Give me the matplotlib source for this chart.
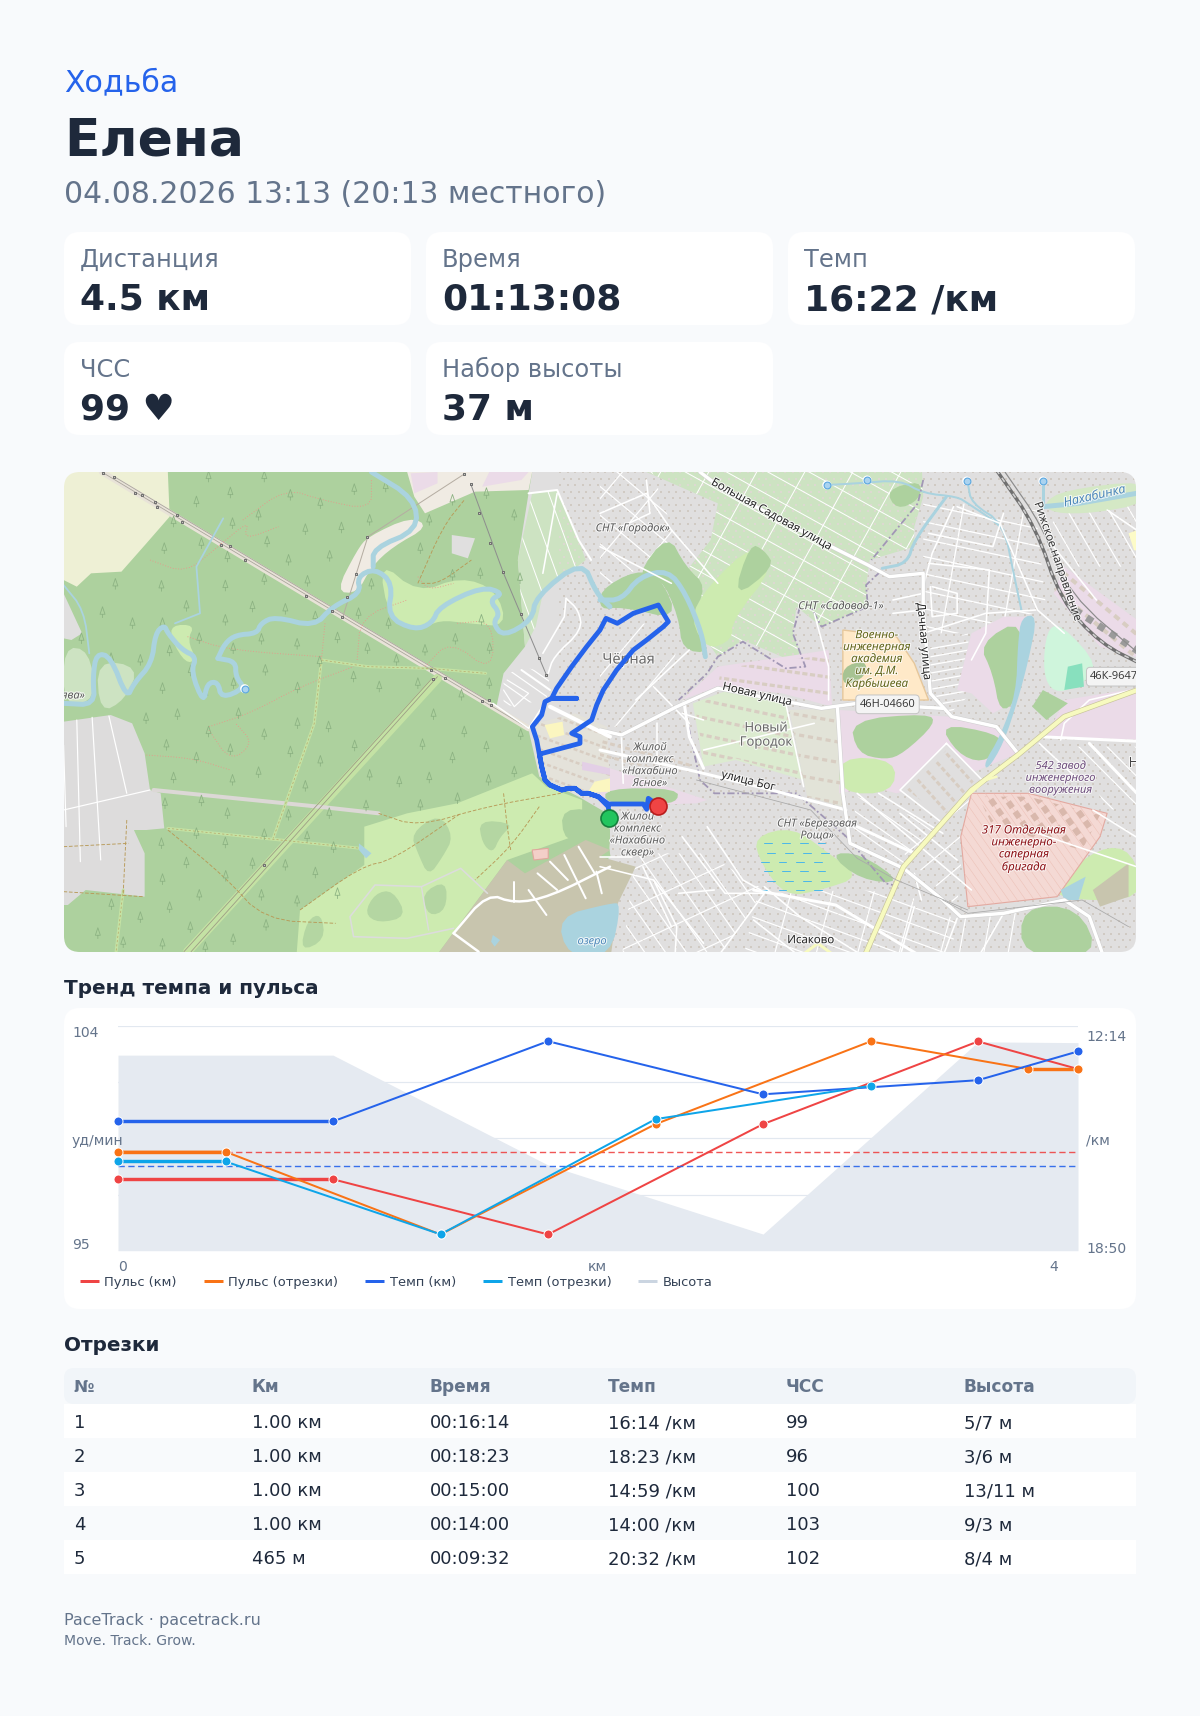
#!/usr/bin/env python3
# -*- coding: utf-8 -*-
import numpy as np
import matplotlib
matplotlib.use('Agg')
import matplotlib.pyplot as plt
from matplotlib.patches import FancyBboxPatch, Polygon, PathPatch, BoxStyle
from matplotlib.path import Path
from matplotlib.collections import LineCollection
import matplotlib.patheffects as pe

# ---- chart data ----
km_x = [0, 1, 2, 3, 4, 4.465]
seg_x = [0, 0.5, 1.5, 2.5, 3.5, 4.2325, 4.465]
pulse_km = [98, 98, 96, 100, 103, 102]
pulse_seg = [99, 99, 96, 100, 103, 102, 102]
pace_km = [903, 903, 761, 855, 830, 779]
pace_seg_x = [0, 0.5, 1.5, 2.5, 3.5]
pace_seg = [974, 974, 1103, 899, 840]
elev_km = [0, 1, 2, 3, 4, 4.465]
elev = [23.5, 23.5, 10.3, 2.0, 25.1, 25.0]
pulse_avg = 99
pace_avg = 982

cards = [('Дистанция', '4.5 км'), ('Время', '01:13:08'), ('Темп', '16:22 /км'),
         ('ЧСС', '99 ♥'), ('Набор высоты', '37 м')]
table_head = ['№', 'Км', 'Время', 'Темп', 'ЧСС', 'Высота']
table_rows = [['1', '1.00 км', '00:16:14', '16:14 /км', '99', '5/7 м'],
              ['2', '1.00 км', '00:18:23', '18:23 /км', '96', '3/6 м'],
              ['3', '1.00 км', '00:15:00', '14:59 /км', '100', '13/11 м'],
              ['4', '1.00 км', '00:14:00', '14:00 /км', '103', '9/3 м'],
              ['5', '465 м', '00:09:32', '20:32 /км', '102', '8/4 м']]

# route, in pixels of the page
route_x = [500 + v / 3 for v in [328, 325, 295, 265, 245, 225, 205, 185, 150, 135, 125, 118, 120, 240, 240, 215, 245, 275, 290, 310,
                                 350, 400, 440, 490, 505, 490, 475, 400, 352, 318, 300, 260, 215, 170, 155, 230, 155, 135, 125, 97,
                                 110, 125, 135, 150, 185, 205, 225, 245, 265, 295, 325, 430, 440, 445, 475]]
route_y = [580 + v / 3 for v in [715, 680, 650, 640, 640, 625, 625, 630, 615, 600, 560, 520, 522, 490, 470, 460, 440, 420, 375, 330,
                                 270, 210, 180, 140, 125, 100, 75, 100, 130, 115, 150, 200, 260, 325, 355, 355, 355, 365, 405, 440,
                                 480, 560, 600, 615, 630, 625, 625, 640, 640, 650, 672, 672, 688, 655, 677]]

BG = '#f8fafc'
DARK = '#1e293b'
MUTED = '#64748b'
PX = 0.72

fig = plt.figure(figsize=(12, 17.16), dpi=100, facecolor=BG)
page = fig.add_axes([0, 0, 1, 1])
over = fig.add_axes([0, 0, 1, 1], zorder=20)
for a in (page, over):
    a.set_xlim(0, 1200)
    a.set_ylim(1716, 0)
    a.axis('off')
    a.patch.set_visible(False)


def txt(x, y, s, size, color=DARK, weight='normal', ax=page, **kw):
    ax.text(x, y, s, fontsize=size * PX, color=color, fontweight=weight, va='baseline', **kw)


def card(x, y, w, h, color='white', r=16):
    page.add_patch(FancyBboxPatch((x, y), w, h, boxstyle='round,pad=0,rounding_size=%g' % r,
                                  fc=color, ec='none', zorder=1))


txt(64, 91, 'Ходьба', 30, '#2563eb')
txt(64, 156, 'Елена', 52, DARK, 'bold')
txt(64, 203, '04.08.2026 13:13 (20:13 местного)', 29.9, MUTED)

for i, (lab, val) in enumerate(cards):
    x = 64 + (i % 3) * 362
    y = 232 if i < 3 else 342
    card(x, y, 347, 93)
    txt(x + 16, y + 35, lab, 24.1, MUTED)
    txt(x + 16, y + 78, val, 36, DARK, 'bold')

txt(64, 994, 'Тренд темпа и пульса', 20, DARK, 'bold')
card(64, 1008, 1072, 301)

# ---- map ----
map_ax = fig.add_axes([64 / 1200, 1 - 952 / 1716, 1072 / 1200, 480 / 1716])
map_ax.set_xlim(64, 1136)
map_ax.set_ylim(952, 472)
map_ax.axis('off')


def L(pts):
    return [(50 + x / 2.8, 460 + y / 3) for x, y in pts]


def R(pts):
    return [(600 + x / 2.8, 460 + y / 3) for x, y in pts]


def chaikin(pts, closed, n=2):
    a = np.array(pts, dtype=float)
    for _ in range(n):
        if closed:
            b = np.roll(a, -1, axis=0)
            a = np.column_stack([0.75 * a + 0.25 * b, 0.25 * a + 0.75 * b]).reshape(-1, 2)
        else:
            q = 0.75 * a[:-1] + 0.25 * a[1:]
            r = 0.25 * a[:-1] + 0.75 * a[1:]
            a = np.vstack([a[0], np.column_stack([q, r]).reshape(-1, 2), a[-1]])
    return a


def poly(pts, color, z=2, ec='none', lw=0, smooth=False, **kw):
    if smooth:
        pts = chaikin(pts, True)
    p = Polygon(pts, closed=True, fc=color, ec=ec, lw=lw, zorder=z, **kw)
    map_ax.add_patch(p)
    return p


def line(pts, color='white', width=2, z=4, smooth=False, **kw):
    a = chaikin(pts, False) if smooth else np.array(pts)
    kw.setdefault('solid_capstyle', 'round')
    kw.setdefault('solid_joinstyle', 'round')
    map_ax.plot(a[:, 0], a[:, 1], color=color, lw=width * PX, zorder=z, **kw)


def streets(pts, angle, step, width=1.2, color='white', z=3.8, dashes=None):
    # parallel streets cut to a zone of the base map
    zone = Polygon(pts, closed=True, fc='none', ec='none', zorder=1)
    map_ax.add_patch(zone)
    a = np.array(pts)
    c = a.mean(axis=0)
    r = np.hypot(*(a - c).T).max() + step
    d = np.array([np.cos(np.radians(angle)), np.sin(np.radians(angle))])
    n = np.array([-d[1], d[0]])
    segs = [[c + n * o - d * r, c + n * o + d * r] for o in np.arange(-r, r, step)]
    ls = 'solid' if dashes is None else (0, dashes)
    lc = LineCollection(segs, colors=color, linewidths=width * PX, zorder=z, linestyles=ls)
    map_ax.add_collection(lc)
    lc.set_clip_path(zone)


FOREST = '#add19e'
GREY = '#e0dfdf'
GARDEN = '#cde3c2'
PARK = '#cdebb0'
WATER = '#aad3df'
MAUVE = '#ebdbe8'
BLOCK = '#d8cdc2'

poly([(64, 472), (1136, 472), (1136, 952), (64, 952)], FOREST, 1)
poly(L([(38, 36), (330, 36), (335, 170), (270, 250), (200, 335), (115, 340), (75, 380), (38, 360)]), '#eef0d5', 2)
grey_lot = L([(38, 785), (170, 765), (230, 790), (265, 880), (280, 990), (310, 1000), (320, 1105), (270, 1110), (235, 1110),
              (265, 1180), (265, 1310), (100, 1290), (50, 1335), (38, 1335)])
poly(grey_lot, '#dddcdc', 2)
for a, b in [((75, 780), (85, 1205)), ((118, 772), (142, 1200)), ((165, 768), (215, 1000)), ((38, 1050), (280, 990)), ((38, 855), (45, 1100))]:
    line(L([a, b]), 'white', 1.2, 3)
poly(L([(38, 560), (110, 570), (130, 720), (38, 740)]), GARDEN, 2, smooth=True)
poly(L([(130, 600), (250, 620), (210, 720), (140, 760)]), GARDEN, 2, smooth=True)
poly(L([(38, 400), (90, 520), (60, 540), (38, 535)]), GREY, 2)

town_pts = L([(1350, 36), (1340, 100), (1310, 300), (1330, 560), (1270, 640), (1250, 740), (1340, 810), (1370, 950), (1480, 1010),
              (1560, 1060), (1568, 1190)]) + R([(20, 1200), (0, 1500), (1530, 1500), (1530, 0), (0, 0)])
town = poly(town_pts, GREY, 2)
gx, gy = np.meshgrid(np.arange(560, 1140, 7.5), np.arange(472, 955, 6.5))
gx = gx + (np.arange(gy.shape[0]) % 2)[:, None] * 3.7
dots = map_ax.scatter(gx.ravel(), gy.ravel(), s=3.6, marker='s', c='#d0cac3', linewidths=0, zorder=2.1)
dots.set_clip_path(town)

# top of the left half
poly(L([(1000, 36), (1350, 36), (1340, 90), (1190, 95), (1050, 160), (1020, 110)]), '#f0ebe3', 2.2)
poly(L([(1010, 40), (1085, 36), (1085, 70), (1020, 100)]), MAUVE, 2.25)
poly(L([(1230, 36), (1340, 36), (1320, 60), (1210, 80)]), MAUVE, 2.25)
poly(L([(1125, 225), (1190, 235), (1170, 295), (1125, 280)]), GREY, 2)
poly(L([(800, 395), (860, 270), (890, 230), (1010, 170), (1060, 200), (960, 260), (900, 320), (860, 400)]), '#f0ebe3', 2, smooth=True)
poly(L([(920, 300), (1030, 400), (1150, 350), (1250, 390), (1280, 500), (1170, 490), (1090, 480), (1040, 510), (950, 480)]), PARK, 2.2, smooth=True)
poly(L([(340, 495), (405, 495), (385, 540), (410, 600), (380, 610), (340, 540)]), PARK, 2.2, smooth=True)

# gardens
gard1_pts = L([(1350, 100), (1420, 90), (1480, 240), (1500, 300), (1380, 400), (1360, 500), (1330, 560), (1310, 300)])
gard2_pts = R([(130, 36), (140, 0), (900, 0), (905, 110), (880, 200), (880, 260), (755, 300), (745, 380), (750, 440), (620, 500), (550, 440), (540, 520),
               (575, 620), (400, 540), (330, 590), (290, 530), (270, 450), (215, 370), (310, 240), (330, 130)])
for pts in (gard1_pts, gard2_pts):
    g = poly(pts, GARDEN, 2.3)
    d = map_ax.scatter(gx.ravel(), gy.ravel(), s=2.8, marker='s', c='#dcd9d0', linewidths=0, zorder=2.4)
    d.set_clip_path(g)
streets(gard2_pts, 29, 20, 1.0, z=2.45)
streets(gard2_pts, 119, 42, 1.0, z=2.45)
streets(gard1_pts, 70, 20, 1.0, z=2.45)
poly(R([(300, 380), (430, 250), (490, 320), (370, 480), (370, 540), (300, 570), (250, 480)]), PARK, 2.5, smooth=True)
poly(R([(420, 250), (460, 270), (490, 320), (370, 420)]), FOREST, 2.6, smooth=True)
poly(R([(100, 350), (190, 220), (240, 320), (300, 380), (250, 480), (310, 580), (230, 570), (220, 470), (170, 350)]), FOREST, 2.6, smooth=True)
poly(R([(800, 90), (900, 60), (895, 120), (830, 150)]), FOREST, 2.6, smooth=True)
poly(R([(0, 390), (100, 330), (170, 350), (220, 480), (60, 440), (0, 450)]), FOREST, 2.55, smooth=True)

# residential street pattern
streets(R([(905, 120), (1220, 150), (1250, 450), (1000, 520), (905, 520)]), 12, 17, 1.3, z=2.5)
streets(R([(905, 120), (1220, 150), (1250, 450), (1000, 520), (905, 520)]), 100, 60, 1.3, z=2.5)
streets(R([(925, 560), (1030, 520), (1040, 700), (980, 760), (925, 690)]), -10, 8, 1.3, z=2.5)
streets(R([(100, 1180), (300, 1180), (460, 1290), (330, 1500), (60, 1500)]), 55, 17, 1.2, z=2.5)
streets(R([(100, 1180), (300, 1180), (460, 1290), (330, 1500), (60, 1500)]), -25, 34, 1.2, z=2.5)
streets(R([(440, 1300), (720, 1290), (850, 1300), (1000, 1380), (980, 1500), (400, 1500)]), 20, 16, 1.2, z=2.5)
streets(R([(440, 1300), (720, 1290), (850, 1300), (1000, 1380), (980, 1500), (400, 1500)]), 105, 40, 1.2, z=2.5)
streets(R([(720, 1010), (960, 1100), (850, 1220), (700, 1150)]), 35, 14, 1.2, z=2.5)
streets(R([(1000, 1375), (1180, 1340), (1180, 1500), (960, 1500)]), 100, 24, 1.2, z=2.5)
streets(R([(1300, 160), (1530, 130), (1530, 320), (1300, 320), (1250, 200)]), 60, 18, 1.2, z=2.5)
streets(R([(0, 480), (230, 500), (180, 720), (60, 800), (0, 800)]), -50, 44, 1.2, z=2.5)
streets(R([(0, 0), (135, 0), (210, 230), (100, 330), (0, 390)]), 40, 22, 1.2, z=2.5)
streets(R([(0, 0), (135, 0), (210, 230), (100, 330), (0, 390)]), 130, 38, 1.2, z=2.5)
streets(L([(1320, 620), (1400, 640), (1390, 720), (1270, 740), (1270, 650)]), 35, 14, 1.2, z=2.5)
streets(R([(1330, 860), (1530, 860), (1530, 1040), (1420, 1050)]), 45, 20, 1.2, z=2.5)
streets(R([(1040, 980), (850, 1180), (1000, 1340), (1020, 1100)]), -40, 22, 1.2, z=2.5)

# buildings, zones
poly(R([(330, 620), (640, 570), (650, 740), (510, 700), (330, 680), (230, 720)]), MAUVE, 2.5)
poly(R([(260, 730), (360, 690), (520, 730), (570, 960), (380, 900), (290, 920)]), '#dcebd0', 2.5)
poly(R([(530, 750), (660, 745), (680, 1040), (580, 1010)]), '#e2e3d8', 2.5)
streets(R([(340, 625), (640, 585), (645, 730), (510, 695), (330, 675)]), 8, 16, 3.2, BLOCK, 2.55, (1.6, 0.8))
streets(R([(265, 735), (360, 695), (520, 735), (570, 955), (380, 895), (295, 915)]), 12, 17, 3.2, BLOCK, 2.55, (1.6, 1.0))
streets(R([(530, 750), (660, 745), (680, 1040), (580, 1010)]), 10, 20, 3.2, BLOCK, 2.55, (1.6, 1.2))
poly(R([(680, 510), (830, 530), (880, 610), (920, 720), (680, 720)]), '#ffe9c8', 2.6, ec='#e6c79b', lw=1)
poly(R([(680, 620), (745, 600), (745, 650), (680, 680)]), '#a7c392', 2.7, smooth=True)
poly(R([(670, 750), (980, 770), (1100, 800), (1170, 880), (1060, 930), (830, 1000), (760, 980), (670, 1000)]), MAUVE, 2.5)
poly(R([(700, 780), (920, 760), (940, 790), (850, 880), (800, 900), (720, 880)]), FOREST, 2.7, smooth=True)
poly(R([(950, 790), (1110, 820), (1130, 860), (1070, 910), (1000, 880)]), FOREST, 2.7, smooth=True)
poly(R([(670, 890), (830, 900), (820, 1000), (670, 1000)]), PARK, 2.7, smooth=True)
poly(R([(840, 990), (970, 850), (1070, 960), (960, 1090)]), GREY, 2.6)
streets(R([(860, 990), (970, 870), (1050, 960), (960, 1070)]), 48, 13, 3, BLOCK, 2.65, (1.6, 0.8))
poly(R([(1040, 520), (1130, 470), (1200, 470), (1170, 720), (1100, 760), (1040, 700), (1000, 690)]), MAUVE, 2.5)
poly(R([(1060, 550), (1190, 470), (1170, 720), (1120, 760), (1100, 640)]), FOREST, 2.7, smooth=True)
poly(R([(1180, 470), (1225, 465), (1200, 600), (1170, 720), (1130, 850), (1085, 930), (1075, 910), (1120, 830), (1165, 700), (1170, 550)]), WATER, 3, smooth=True)
poly(R([(1300, 320), (1530, 500), (1530, 600), (1400, 560), (1270, 400)]), MAUVE, 2.5)
poly(R([(1250, 510), (1290, 490), (1400, 620), (1340, 680), (1270, 700), (1240, 640)]), '#cff5dc', 2.6, smooth=True)
poly(R([(1310, 620), (1350, 610), (1355, 680), (1300, 690)]), '#88e0be', 2.7)
poly(R([(1240, 130), (1300, 90), (1530, 60), (1530, 130), (1380, 160), (1270, 160)]), '#d4e8c5', 2.6, smooth=True)
poly(R([(1300, 720), (1530, 680), (1530, 840), (1250, 830)]), MAUVE, 2.5)
poly(R([(1240, 690), (1310, 730), (1250, 780), (1210, 740)]), FOREST, 2.7)
poly(R([(1480, 220), (1530, 200), (1530, 280), (1495, 270)]), '#fdfbc8', 2.7)
streets(R([(1300, 320), (1530, 500), (1530, 600), (1400, 560), (1270, 400)]), 40, 18, 4, BLOCK, 2.6, (1.6, 1.2))

# Yasnoe block, parks and the lake
poly(R([(0, 915), (130, 960), (300, 1020), (270, 1030), (0, 1040)]), MAUVE, 2.5)
poly(R([(15, 985), (220, 985), (215, 1030), (130, 1030), (15, 1030)]), FOREST, 2.7, smooth=True)
poly(L([(1360, 790), (1470, 760), (1560, 800), (1568, 980), (1500, 1000), (1390, 960)]), '#e4e2da', 2.5)
streets(L([(1360, 790), (1470, 760), (1568, 800), (1568, 980), (1500, 1000), (1390, 960)]), 20, 12, 2.5, BLOCK, 2.55, (1.6, 1))
streets(R([(0, 830), (230, 880), (270, 940), (0, 900)]), 15, 13, 3, BLOCK, 2.55, (1.6, 1))
poly(L([(1385, 795), (1435, 785), (1440, 825), (1400, 835)]), '#fbf6c0', 2.7)
poly(L([(1525, 965), (1568, 955), (1568, 995), (1505, 998)]), '#fbf6c0', 2.7)
poly(L([(1490, 905), (1568, 925), (1568, 945), (1490, 930)]), '#e3cfe6', 2.7)

park = L([(1350, 940), (1140, 1030), (1000, 1060), (880, 1100), (880, 1215), (700, 1350), (690, 1490), (1080, 1490),
          (1280, 1200), (1490, 1120), (1490, 1020), (1440, 1000), (1390, 980)])
poly(park, PARK, 2.9)
for blob in [[(1010, 1120), (1090, 1060), (1130, 1130), (1100, 1190), (1060, 1250), (1030, 1180)],
             [(1040, 1300), (1110, 1260), (1110, 1350), (1060, 1370)],
             [(910, 1300), (960, 1290), (1000, 1370), (920, 1390), (880, 1360)],
             [(1200, 1080), (1300, 1090), (1260, 1130), (1240, 1180), (1210, 1150)],
             [(720, 1380), (760, 1360), (770, 1440), (700, 1475)]]:
    poly(L(blob), '#b4d6a2', 3, smooth=True)
poly(L([(1430, 1040), (1568, 1060), (1568, 1190), (1530, 1130), (1440, 1150)]), FOREST, 3, smooth=True)
poly(R([(0, 1060), (30, 1190), (0, 1190)]), FOREST, 3)
poly(L([(1350, 1170), (1395, 1165), (1395, 1195), (1355, 1200)]), '#f3cfc8', 3, ec='#e0a79c', lw=0.8)

khaki = L([(1280, 1200), (1330, 1240), (1500, 1140), (1568, 1170)]) + R([(0, 1190), (100, 1220), (50, 1330), (30, 1490)]) + L([(1080, 1490)])
poly(khaki, '#c8c5ae', 3.1)
poly(L([(1420, 1370), (1568, 1330)]) + R([(60, 1330), (30, 1490)]) + L([(1450, 1490)]), WATER, 3.2, smooth=True)
poly(L([(1240, 1425), (1260, 1440), (1245, 1460), (1235, 1445)]), WATER, 3.2)
poly(L([(865, 1150), (900, 1180), (885, 1195), (865, 1170)]), WATER, 3.2)
for a, b in [((1300, 1265), (1300, 1325)), ((1340, 1290), (1390, 1365)), ((1365, 1240), (1420, 1290)),
             ((1400, 1205), (1450, 1260)), ((1440, 1185), (1500, 1315)), ((1480, 1160), (1525, 1240)), ((1530, 1235), (1545, 1300))]:
    line(L([a, b]), 'white', 2, 3.5)
line(L([(1130, 1420), (1225, 1300), (1300, 1330), (1400, 1310), (1568, 1220)]), 'white', 2.5, 3.5, smooth=True)
line(L([(1130, 1420), (1200, 1475)]), 'white', 2.5, 3.5)
line(L([(1225, 1300), (1150, 1225), (1040, 1280), (910, 1275), (840, 1370), (850, 1430), (1000, 1435), (1130, 1405)]), '#dcdcdc', 1.6, 3.5)
line(L([(1040, 1280), (1060, 1410)]), '#dcdcdc', 1.4, 3.5)

# wetland
poly(R([(430, 1130), (540, 1100), (640, 1180), (730, 1250), (620, 1290), (520, 1310), (450, 1210)]), PARK, 3, smooth=True)
poly(R([(640, 1180), (730, 1180), (850, 1270), (730, 1260)]), FOREST, 3, smooth=True)
for yy in range(1150, 1310, 28):
    for xx in range(450, 640, 50):
        line(R([(xx + (yy % 3) * 9, yy), (xx + 22 + (yy % 3) * 9, yy)]), '#4db8e8', 1, 3.1)

# military, bottom right
mil_pts = R([(1040, 1000), (1200, 1000), (1420, 1060), (1400, 1130), (1280, 1310), (1030, 1340), (1010, 1130)])
poly(mil_pts, '#f4d9d4', 3, ec='#e3a9a0', lw=0.8)
streets(mil_pts, 55, 7, 0.5, '#ecc0b6', 3.05)
streets(R([(1060, 1010), (1200, 1010), (1400, 1065), (1350, 1170), (1100, 1100)]), 55, 13, 6, '#d9b8ac', 3.1, (1.2, 0.8))
poly(R([(1180, 1340), (1340, 1340), (1400, 1490), (1180, 1490)]), FOREST, 3, smooth=True)
poly(R([(1270, 1270), (1400, 1160), (1490, 1170), (1530, 1320), (1290, 1320)]), PARK, 2.9, smooth=True)
poly(R([(1290, 1290), (1360, 1250), (1340, 1320), (1300, 1320)]), WATER, 3.1)
poly(R([(1380, 1290), (1480, 1210), (1480, 1310), (1400, 1340)]), '#c8c5ae', 3.1)

# corridors
line(L([(145, 36), (1340, 805)]), '#e8e3d8', 6, 3)
line(L([(145, 36), (1340, 805)]), '#a9a49c', 0.8, 3.1)
line(L([(180, 50), (1230, 725)]), '#a9a49c', 0.8, 3.1)
line(L([(385, 1475), (1085, 655)]), '#c4e2a4', 9, 3)
line(L([(375, 1475), (1070, 655)]), '#9c9c84', 0.8, 3.1)
line(L([(395, 1475), (1085, 650)]), '#9c9c84', 0.8, 3.1)
line(L([(290, 990), (770, 1042), (920, 1060)]), '#dcd8d6', 4, 3)
for pts in ([(760, 600), (890, 620), (1060, 625), (1220, 640)], [(760, 600), (740, 790), (625, 1135)], [(330, 1105), (870, 1165)], [(205, 1290), (185, 1475)]):
    line(L(pts), '#c4e2a4', 3, 3)
    line(L(pts), '#b8a86a', 0.7, 3.1, linestyle=(0, (3, 3)))
line(L([(1160, 42), (890, 230), (820, 470)]), '#b5ada2', 1, 3.2)
line(L([(1178, 72), (1270, 340), (1390, 645)]), '#8e8e8e', 1, 3.2)

# dotted forest tracks
for pts in [[(540, 180), (660, 85), (760, 120), (900, 150), (900, 60)], [(280, 300), (380, 340), (470, 260), (560, 180), (540, 240), (640, 200)],
            [(385, 530), (500, 570), (760, 590)], [(770, 490), (760, 600)], [(445, 800), (560, 760), (700, 680), (850, 620)],
            [(445, 810), (505, 905), (570, 850), (520, 790)], [(270, 885), (400, 895), (505, 930)], [(860, 600), (870, 470), (1000, 420)],
            [(1030, 350), (1060, 390), (1130, 370)], [(1140, 490), (1240, 480), (1240, 640), (1120, 540), (1050, 620)]]:
    line(L(pts), '#e8978a', 0.9, 3.3, smooth=True, linestyle=(0, (1, 2)))
for pts in [[(920, 1060), (1030, 1100), (1220, 1040), (1430, 1000)], [(1270, 1000), (1280, 1100), (1290, 1170)], [(700, 1350), (870, 1220), (960, 1200), (1150, 1060)],
            [(330, 1110), (490, 1250), (600, 1380), (800, 1390)], [(215, 1080), (205, 1300)], [(38, 1160), (220, 1150)], [(38, 1295), (260, 1310)],
            [(1030, 370), (1100, 200), (1160, 120)], [(1370, 1040), (1290, 1160), (1190, 1260)], [(1040, 370), (1090, 370), (1180, 300)]]:
    line(L(pts), '#b89a58', 0.9, 3.3, smooth=True, linestyle=(0, (4, 2)))

# rivers
main_river = [(470, 595), (520, 605), (520, 650), (545, 685), (480, 715), (470, 665), (440, 670), (430, 730), (395, 635), (410, 590), (370, 570), (330, 520), (320, 495),
              (295, 520), (285, 610), (235, 670), (215, 715), (170, 590), (130, 580), (120, 650), (125, 735), (38, 730)]
line(L(main_river), WATER, 5, 3.5, smooth=True)
river2 = [(470, 595), (490, 550), (520, 525), (580, 520), (590, 490), (630, 470), (740, 500), (790, 440), (870, 400), (860, 350), (910, 325), (960, 370), (945, 470),
          (1020, 510), (1070, 490), (1090, 440), (1210, 380), (1270, 400), (1230, 420), (1260, 460), (1240, 490), (1270, 530), (1350, 480), (1360, 410),
          (1490, 300), (1530, 400), (1568, 440)]
line(L(river2), WATER, 5, 3.5, smooth=True)
line(L([(900, 36), (1020, 115), (1030, 210), (905, 265), (905, 320)]), WATER, 5, 3.5, smooth=True)
line(L([(485, 175), (410, 320), (420, 460), (350, 490)]), WATER, 1.8, 3.5)
line(L([(38, 375), (95, 450), (110, 580)]), WATER, 1.8, 3.5, smooth=True)
line(R([(0, 420), (60, 420), (110, 350), (190, 330), (240, 400), (285, 520), (295, 590)]), WATER, 5, 3.5, smooth=True)
line(R([(635, 75), (720, 70), (840, 60), (905, 100), (1000, 110), (1030, 130), (1100, 180), (1130, 210)]), WATER, 2, 3.5, smooth=True)
line(R([(790, 325), (860, 310), (880, 240), (970, 110)]), WATER, 3, 3.5, smooth=True)
line(R([(1030, 70), (1040, 130), (1130, 190), (1160, 350), (1180, 450)]), WATER, 2, 3.5, smooth=True)
line(R([(1240, 140), (1340, 130), (1530, 95)]), WATER, 5, 3.5)
line(R([(1240, 65), (1240, 140)]), WATER, 3, 3.5)
for pts in ([(785, 335), (745, 375), (750, 440), (620, 500), (590, 440)], [(560, 440), (540, 520), (575, 620), (520, 625), (400, 545), (330, 590), (300, 640), (220, 720)],
            [(905, 60), (890, 130), (760, 300)], [(240, 760), (280, 960), (320, 1000), (550, 1000), (690, 1130), (800, 1270), (840, 1280)]):
    line(R(pts), '#a197b5', 1.8, 3.6, linestyle=(0, (4, 1.5, 1, 1.5)))

# roads
for pts in [[(0, 870), (270, 935), (480, 990), (690, 1050)], [(1370, 850), (1530, 1030)], [(1230, 830), (1530, 845)],
            [(235, 725), (250, 830), (290, 925)], [(720, 1100), (880, 1180)], [(430, 1290), (660, 1335), (900, 1490)]]:
    line(R(pts), 'white', 3, 4)
mains = [[(280, 36), (340, 85), (620, 245), (750, 315), (810, 350), (905, 340), (905, 450), (920, 640), (925, 700), (985, 770), (1110, 800), (1170, 880)],
         [(0, 810), (60, 825), (215, 740), (330, 685), (620, 745), (720, 730), (960, 745)],
         [(665, 745), (680, 1000), (700, 1150), (850, 1225), (960, 1320), (1010, 1370), (1130, 1360), (1300, 1320), (1370, 1370), (1410, 1490)]]
for pts in mains:
    line(R(pts), '#cfcfcf', 4.4, 4)
    line(R(pts), 'white', 3.4, 4.1)
line(L([(1240, 730), (1340, 805), (1390, 720)]), 'white', 1.5, 4)
line(L([(1400, 740), (1568, 830)]), 'white', 4, 4.1)
line(L([(1320, 630), (1400, 690)]), 'white', 2, 4)
line(L([(1445, 415), (1480, 450), (1490, 510), (1410, 590), (1395, 640)]), 'white', 1.6, 4, smooth=True)
line(L([(1445, 415), (1440, 470), (1380, 580)]), 'white', 1.6, 4)
line(L([(1340, 100), (1420, 90), (1480, 240), (1515, 300)]), 'white', 2, 4)
line(L([(1420, 100), (1380, 340)]), 'white', 1.6, 4)
line(L([(1280, 660), (1340, 700), (1300, 740), (1270, 690)]), 'white', 1.2, 4)
sec = [[(600, 460), (640, 620), (640, 720)], [(990, 140), (930, 280), (905, 380)],
       [(920, 220), (1100, 260), (1130, 160)], [(920, 310), (1090, 330), (1080, 520), (1040, 600)], [(1000, 140), (1120, 190), (1225, 450), (1300, 520)],
       [(930, 380), (1000, 400), (1000, 460), (930, 470), (925, 380)], [(820, 420), (905, 400)], [(820, 460), (905, 450)], [(905, 520), (1080, 460), (1220, 450)],
       [(1290, 840), (1300, 790), (1370, 720), (1530, 680)], [(970, 850), (840, 990), (960, 1090), (1070, 960), (970, 850)], [(780, 1000), (960, 1120)],
       [(0, 1220), (150, 1260), (215, 1400), (210, 1490)], [(150, 1260), (290, 1450)], [(230, 1130), (350, 1300), (460, 1300), (330, 1490)],
       [(300, 1100), (400, 1260), (450, 1290)], [(120, 1220), (200, 1400)], [(460, 1280), (560, 1370), (740, 1490)], [(880, 1240), (900, 1320)],
       [(0, 160), (130, 100), (200, 210), (330, 370)], [(130, 60), (140, 160), (60, 200)], [(200, 370), (0, 260)], [(250, 570), (100, 720)], [(150, 680), (250, 790)],
       [(60, 830), (65, 970)], [(160, 790), (160, 900)], [(520, 730), (570, 980)], [(290, 870), (600, 790)], [(720, 1000), (1040, 1290)], [(840, 1060), (1000, 1200)],
       [(1230, 850), (1340, 960)], [(1000, 1375), (960, 1490)], [(1130, 1360), (1060, 1490)], [(880, 1340), (840, 1490)], [(430, 1380), (560, 1490)], [(220, 1300), (320, 1290)],
       [(1380, 1050), (1530, 1150)], [(1170, 1100), (1530, 1230)], [(1420, 150), (1530, 230)], [(1270, 260), (1390, 420)], [(230, 760), (290, 780)], [(0, 1190), (90, 1190)]]
for pts in sec:
    line(R(pts), 'white', 1.6, 3.9)

# trunk road and rail
trunk = [(740, 1490), (850, 1220), (1040, 990), (1170, 885), (1300, 770), (1530, 680)]
line(R(trunk), '#c8c49a', 5.5, 4.4)
line(R(trunk), '#f7fabf', 4.2, 4.5)
line(R([(1040, 990), (1005, 1030), (1080, 960), (1110, 950)]), '#f7fabf', 2.5, 4.5)
line(R([(560, 1490), (610, 1450), (660, 1490)]), '#f7fabf', 3, 4.5)
rail = [(1110, 30), (1220, 200), (1290, 420), (1400, 550), (1530, 620)]
line(R(rail), '#707070', 3.4, 4.6, smooth=True)
line(R(rail), '#cfcfcf', 1.6, 4.7, smooth=True, linestyle=(0, (3, 3)))
line(R([(1130, 30), (1240, 200), (1310, 400), (1530, 600)]), '#8c8c8c', 1.2, 4.6, smooth=True)
line(R([(1330, 450), (1530, 590)]), '#9a9a9a', 7, 4.55, linestyle=(0, (1, 1)))
line(R([(960, 1320), (1030, 1360), (1190, 1340), (1350, 1320), (1480, 1400)]), '#aaaaaa', 0.8, 4.6)
line(R([(270, 960), (590, 1050), (720, 1195), (830, 1260), (1030, 1350)]), '#aaaaaa', 0.8, 4.6)

# pylons
pylons = L([(147, 40), (180, 52), (237, 100), (258, 106), (295, 127), (300, 142), (356, 166), (370, 187), (479, 256), (505, 259), (547, 301), (717, 409),
            (790, 452), (818, 471), (1067, 631), (1071, 656), (1106, 655), (1210, 724), (1230, 721), (1236, 736), (888, 232), (857, 343), (832, 410),
            (1160, 43), (1178, 73), (1202, 160), (1233, 250), (1267, 337), (1318, 463), (1368, 595), (1389, 646), (598, 1216)])
pa = np.array(pylons)
map_ax.scatter(pa[:, 0], pa[:, 1], s=4, marker='s', fc='#c8c6bf', ec='#6e6e6e', linewidths=0.7, zorder=5)

# springs
springs = L([(545, 686)]) + R([(635, 75), (748, 60), (1027, 63), (1240, 63)])
sa = np.array(springs)
map_ax.scatter(sa[:, 0], sa[:, 1], s=42, fc='white', ec='none', zorder=5)
map_ax.scatter(sa[:, 0], sa[:, 1], s=24, fc='#aad3f0', ec='#5aa7df', linewidths=0.8, zorder=5.1)

# trees in the forest
trees = np.array(L([(444, 50), (600, 50), (505, 98), (410, 125), (757, 130), (673, 105), (852, 88), (940, 80), (346, 185), (511, 190), (584, 165), (715, 208), (816, 203),
                    (895, 180), (320, 265), (424, 250), (497, 290), (608, 245), (668, 300), (783, 288), (1037, 265), (1062, 180), (1127, 120), (1222, 100), (1300, 165),
                    (183, 372), (312, 378), (491, 377), (600, 358), (721, 363), (900, 372), (1127, 345), (1205, 340), (1316, 355), (382, 438), (567, 440), (659, 447),
                    (743, 470), (864, 460), (147, 457), (231, 490), (315, 490), (491, 480), (948, 490), (1208, 480), (88, 535), (418, 535), (513, 565), (592, 537),
                    (692, 552), (805, 533), (889, 565), (1050, 570), (1135, 537), (1231, 565), (171, 595), (335, 572), (253, 600), (755, 605), (970, 600), (394, 632),
                    (603, 630), (850, 650), (514, 670), (315, 685), (435, 700), (693, 683), (922, 680), (1030, 670), (1230, 670), (1152, 705), (269, 775), (357, 763),
                    (528, 760), (693, 790), (780, 800), (1074, 763), (1160, 815), (444, 815), (600, 823), (1318, 823), (326, 855), (505, 868), (673, 875), (853, 857),
                    (1043, 853), (1222, 860), (410, 893), (757, 903), (1127, 893), (346, 953), (584, 937), (511, 960), (715, 978), (895, 945), (978, 965), (1062, 953),
                    (1228, 960), (1300, 935), (1141, 1015), (1037, 1035), (885, 1037), (424, 1022), (322, 1030), (782, 1060), (668, 1065), (497, 1060), (410, 1120),
                    (312, 1150), (491, 1148), (600, 1123), (720, 1130), (794, 1162), (382, 1208), (567, 1210), (659, 1215), (743, 1238), (315, 1258), (492, 1248),
                    (418, 1305), (592, 1305), (805, 1300), (172, 1333), (335, 1342), (253, 1372), (692, 1323), (393, 1402), (605, 1395), (134, 1420), (205, 1447),
                    (315, 1452), (435, 1462), (513, 1438)]))
tree_mark = Path([(0, 1), (-0.45, -0.35), (0.45, -0.35), (0, 1), (0, -0.35), (0, -1)],
                 [Path.MOVETO, Path.LINETO, Path.LINETO, Path.CLOSEPOLY, Path.MOVETO, Path.LINETO])
map_ax.scatter(trees[:, 0], trees[:, 1], s=64, marker=tree_mark, fc='none', ec='#8db383', linewidths=0.6, zorder=3.4)


def mlabel(pos, s, size=11.5, color='#555555', rot=0, italic=True, z=6, weight='normal'):
    t = map_ax.text(pos[0], pos[1], s, fontsize=size * PX, color=color, rotation=rot, rotation_mode='anchor',
                    ha='center', va='center', family='Open Sans', style='italic' if italic else 'normal',
                    linespacing=1.12, zorder=z, clip_on=True, fontweight=weight)
    t.set_path_effects([pe.withStroke(linewidth=1.6, foreground='white', alpha=0.75)])
    return t


rp = lambda x, y: R([(x, y)])[0]
lp = lambda x, y: L([(x, y)])[0]
mlabel(rp(480, 165), 'Большая Садовая улица', 11.5, '#222222', -29, False)
mlabel(rp(92, 205), 'СНТ «Городок»', 11, '#555555')
mlabel(rp(675, 440), 'СНТ «Садовод-1»', 11, '#555555')
mlabel(rp(80, 600), 'Чёрная', 14.5, '#666666', 0, False)
mlabel(rp(440, 705), 'Новая улица', 11.5, '#222222', -13, False)
mlabel(rp(465, 825), 'Новый\nГородок', 13, '#666666', 0, False)
mlabel(rp(905, 545), 'Дачная улица', 11.5, '#222222', -85, False)
mlabel(rp(775, 600), 'Военно-\nинженерная\nакадемия\nим. Д.М.\nКарбышева', 11.5, '#5f6316')
mlabel(rp(1280, 305), 'Рижское направление', 11.5, '#333333', -71, False)
mlabel(rp(1385, 108), 'Нахабинка', 12.5, '#4a86b8', 13)
mlabel(rp(140, 917), 'Жилой\nкомплекс\n«Нахабино\nЯсное»', 11, '#5c5c5c')
mlabel(rp(105, 1125), 'Жилой\nкомплекс\n«Нахабино\nсквер»', 11, '#5c5c5c')
mlabel(rp(608, 1110), 'СНТ «Березовая\nРоща»', 11, '#5c5c5c')
mlabel(rp(1290, 955), '542 завод\nинженерного\nвооружения', 11, '#6b4a7a')
mlabel(rp(1187, 1168), '317 Отдельная\nинженерно-\nсаперная\nбригада', 11.5, '#8b0d12')
mlabel(rp(590, 1442), 'Исаково', 11.5, '#222222', 0, False)
mlabel(rp(415, 965), 'улица Бог', 11.5, '#222222', -14, False)
mlabel(lp(1518, 1445), 'озеро', 11, '#4a86b8')
mlabel(lp(65, 708), 'ява»', 11, '#555555')
mlabel(rp(1495, 910), 'Н', 14, '#444444', 0, False)
for pos, s in [(rp(805, 733), '46Н-04660'), (rp(1440, 650), '46К-9647')]:
    map_ax.text(pos[0], pos[1], s, fontsize=11 * PX, color='#333333', ha='center', va='center', family='Open Sans', zorder=7, clip_on=True,
                bbox=dict(boxstyle='round,pad=0.35', fc='#f4f4f4', ec='#c4c4c4', lw=0.7))

# route on top
map_ax.plot(route_x, route_y, color='#2563eb', lw=4.8 * PX, solid_joinstyle='round', solid_capstyle='round', zorder=8)
map_ax.scatter([route_x[0]], [route_y[0]], s=(17 * PX) ** 2, c='#22c55e', ec='#15803d', linewidths=1.2, zorder=9)
map_ax.scatter([route_x[-1]], [route_y[-1]], s=(17 * PX) ** 2, c='#ef4444', ec='#b91c1c', linewidths=1.2, zorder=10)

# rounded corners of the map
inner = BoxStyle('round', pad=0, rounding_size=16)(64, 472, 1072, 480, 1.0).to_polygons()[0][::-1]
outer = [(50, 460), (1150, 460), (1150, 965), (50, 965), (50, 460)]
mask = Path.make_compound_path(Path(outer), Path(inner))
map_ax.add_patch(PathPatch(mask, fc=BG, ec='none', zorder=50, clip_on=False))

# ---- trend chart ----
rect = [118 / 1200, 1 - 1250.7 / 1716, 960 / 1200, 224.7 / 1716]
base = fig.add_axes(rect, facecolor='none', zorder=3)
base.set_xlim(0, 4.465)
base.set_ylim(0, 27)
base.set_yticks(np.linspace(0, 27, 5))
base.set_xticks([])
base.set_yticklabels([])
base.tick_params(length=0)
base.grid(axis='y', color='#e2e8f0', lw=1 * PX * 1.2)
base.set_axisbelow(True)
for s in base.spines.values():
    s.set_visible(False)
base.fill_between(elev_km, elev, 0, color='#e5eaf1', lw=0, zorder=1.5)

pulse_ax = base.twinx()
pace_ax = base.twinx()
pulse_ax.set_zorder(4)
pace_ax.set_zorder(5)
for a in (pulse_ax, pace_ax):
    a.axis('off')
    a.patch.set_visible(False)
pulse_ax.set_ylim(95.41, 103.56)
pace_ax.set_ylim(1132, 734)

pulse_ax.plot([0, 4.45], [pulse_avg, pulse_avg], color='#ef4444', lw=1.4 * PX, dashes=(4.5, 2.5), alpha=0.9, zorder=2)
pace_ax.plot([0, 4.45], [pace_avg, pace_avg], color='#2563eb', lw=1.4 * PX, dashes=(4.5, 2.5), alpha=0.9, zorder=2)


def series(ax, x, y, color, z):
    ax.plot(x, y, color=color, lw=2 * PX, zorder=z, clip_on=False)
    for i in range(len(x) - 1):
        if y[i] == y[i + 1]:
            ax.plot(x[i:i + 2], y[i:i + 2], color=color, lw=3.4 * PX, zorder=z, clip_on=False)
    ax.plot(x, y, ls='none', marker='o', ms=9 * PX, mfc=color, mec='white', mew=0.7, zorder=z + 0.1, clip_on=False)


series(pulse_ax, km_x, pulse_km, '#ef4444', 3)
series(pulse_ax, seg_x, pulse_seg, '#f97316', 4)
series(pace_ax, km_x, pace_km, '#2563eb', 5)
series(pace_ax, pace_seg_x, pace_seg, '#0ea5e9', 6)

for x, y, s in [(72, 1037, '104'), (72, 1145, 'уд/мин'), (72, 1249, '95'), (118, 1271, '0'),
                (1086, 1041, '12:14'), (1086, 1145, '/км'), (1086, 1253, '18:50')]:
    txt(x, y, s, 14, MUTED, ax=over)
txt(597, 1271, 'км', 14, MUTED, ha='center', ax=over)
txt(1054, 1271, '4', 14, MUTED, ha='center', ax=over)

legend_items = [('Пульс (км)', '#ef4444', 80), ('Пульс (отрезки)', '#f97316', 204), ('Темп (км)', '#2563eb', 365),
                ('Темп (отрезки)', '#0ea5e9', 483), ('Высота', '#cbd5e1', 638)]
for lab, col, x in legend_items:
    page.plot([x, x + 19], [1281, 1281], color=col, lw=3 * PX, solid_capstyle='butt', zorder=2)
    txt(x + 24.5, 1286, lab, 13, '#334155', zorder=2)

# ---- table ----
txt(64, 1351, 'Отрезки', 20, DARK, 'bold')
card(64, 1368, 1072, 36, '#f1f5f9', 10)
for i, row in enumerate(table_rows):
    y = 1404 + i * 34
    page.add_patch(plt.Rectangle((64, y), 1072, 34, fc='white' if i % 2 == 0 else '#f8fafc', ec='none', zorder=1))
    for j, v in enumerate(row):
        txt(73.6 + j * 178, y + 24.5, v, 18, DARK, zorder=2)
for j, h in enumerate(table_head):
    txt(73.6 + j * 178, 1391.5, h, 17, MUTED, 'bold', zorder=2)

txt(64, 1625, 'PaceTrack · pacetrack.ru', 16, MUTED)
txt(64, 1645, 'Move. Track. Grow.', 14, MUTED)

fig.savefig('out.png', dpi=100, facecolor=BG)
